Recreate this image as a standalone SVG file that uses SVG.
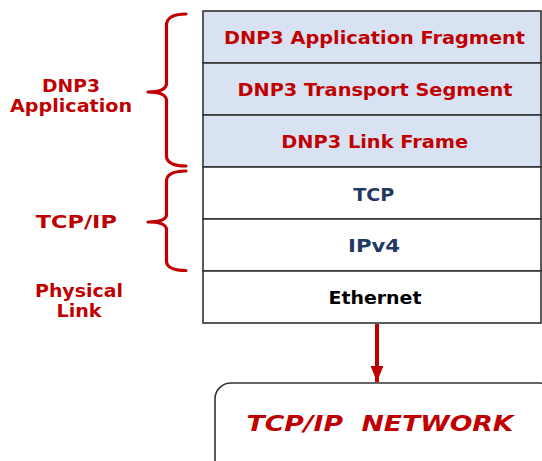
<svg xmlns="http://www.w3.org/2000/svg" width="542" height="461" viewBox="0 0 542 461">
<style>
.t{font-family:"DejaVu Sans","Verdana",sans-serif;font-weight:bold;font-size:17.5px;text-anchor:middle}
.red{fill:#C00000}
.navy{fill:#1F3864}
.blk{fill:#000}
.cell{stroke:#333;stroke-width:1.6}
.app{fill:#D9E2F3}
.wht{fill:#fff}
.brace{fill:none;stroke:#C00000;stroke-width:3.2;stroke-linejoin:round;stroke-linecap:round}
</style>
<defs>
<marker id="ah" markerWidth="4" markerHeight="3.2" refX="4" refY="1.6" orient="auto" markerUnits="strokeWidth">
<path d="M0,0 L4,1.6 L0,3.2 Z" fill="#C00000"/>
</marker>
</defs>
<rect width="542" height="461" fill="#fff"/>
<g id="layer-app-fragment">
<rect class="cell app" x="203" y="11" width="338" height="52"/>
<text class="t red" x="374.5" y="43.5" textLength="301" lengthAdjust="spacingAndGlyphs">DNP3 Application Fragment</text>
</g>
<g id="layer-transport">
<rect class="cell app" x="203" y="63" width="338" height="52"/>
<text class="t red" x="375" y="96" textLength="275" lengthAdjust="spacingAndGlyphs">DNP3 Transport Segment</text>
</g>
<g id="layer-link">
<rect class="cell app" x="203" y="115" width="338" height="52"/>
<text class="t red" x="374.7" y="148.3" textLength="187" lengthAdjust="spacingAndGlyphs">DNP3 Link Frame</text>
</g>
<g id="layer-tcp">
<rect class="cell wht" x="203" y="167" width="338" height="52"/>
<text class="t navy" x="373.7" y="200.7" textLength="41" lengthAdjust="spacingAndGlyphs">TCP</text>
</g>
<g id="layer-ipv4">
<rect class="cell wht" x="203" y="219" width="338" height="52"/>
<text class="t navy" x="374" y="251.7" textLength="52" lengthAdjust="spacingAndGlyphs">IPv4</text>
</g>
<g id="layer-ethernet">
<rect class="cell wht" x="203" y="271" width="338" height="52"/>
<text class="t blk" x="375" y="304" textLength="93" lengthAdjust="spacingAndGlyphs">Ethernet</text>
</g>
<g id="label-dnp3">
<path class="brace" d="M186,14 Q168,14 166.5,24 L166.5,84 Q165.5,92 148,92 Q165.5,92 166.5,100 L166.5,157 Q168,166 186,166"/>
<text class="t red" x="71" y="91.7" textLength="58" lengthAdjust="spacingAndGlyphs">DNP3</text>
<text class="t red" x="71" y="111.7" textLength="122" lengthAdjust="spacingAndGlyphs">Application</text>
</g>
<g id="label-tcpip">
<path class="brace" d="M186,171 Q168,171 166.5,180 L166.5,215 Q165.5,222 148,222 Q165.5,222 166.5,229 L166.5,262 Q168,270.5 186,270.5"/>
<text class="t red" x="76.3" y="228" textLength="81" lengthAdjust="spacingAndGlyphs">TCP/IP</text>
</g>
<g id="label-physical">
<text class="t red" x="79" y="296.7" textLength="88" lengthAdjust="spacingAndGlyphs">Physical</text>
<text class="t red" x="79" y="316.7" textLength="45" lengthAdjust="spacingAndGlyphs">Link</text>
</g>
<g id="connectors">
<line x1="377" y1="324" x2="377" y2="382" stroke="#C00000" stroke-width="4" marker-end="url(#ah)"/>
</g>
<g id="network">
<rect x="215" y="383" width="340" height="100" rx="16" ry="16" fill="#fff" stroke="#333" stroke-width="1.6"/>
<text class="t red" x="380" y="431" textLength="267" lengthAdjust="spacingAndGlyphs" style="font-size:20.5px;font-style:italic" xml:space="preserve">TCP/IP  NETWORK</text>
</g>
</svg>
